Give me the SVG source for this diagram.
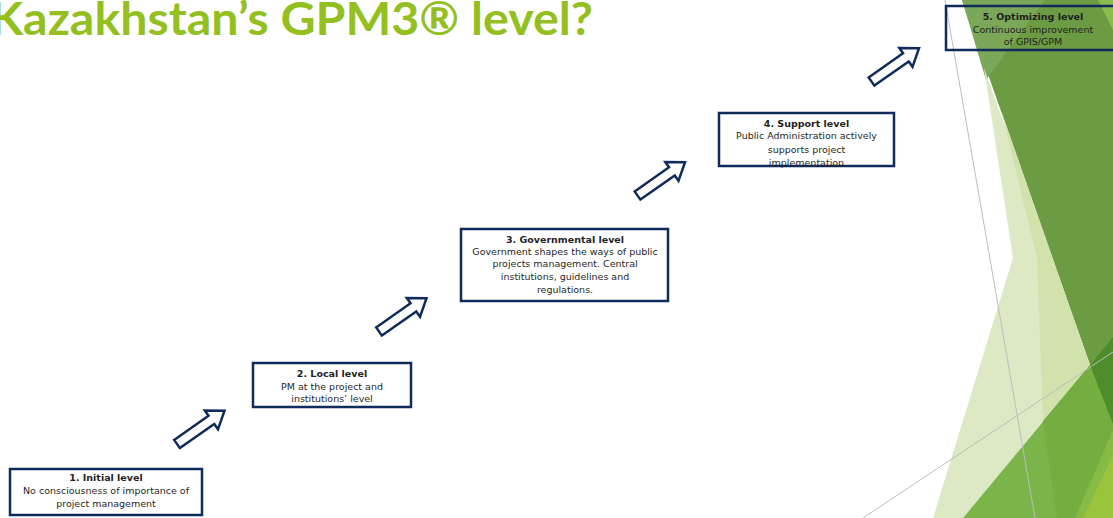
<svg xmlns="http://www.w3.org/2000/svg" width="1113" height="518" viewBox="0 0 1113 518">
<style>
.box{fill:#ffffff;stroke:#0f2b5b;stroke-width:2.5}
.box5{fill:none;stroke:#0f2b5b;stroke-width:2.5}
.t{font-family:"DejaVu Sans","Liberation Sans",sans-serif;font-size:9.5px;fill:#1f1f1f;text-anchor:middle}
.b{font-weight:bold}
.arrow{fill:#ffffff;stroke:#0f2b5b;stroke-width:2.5;stroke-linejoin:miter}
.gl{stroke:#bdbdbd;stroke-width:1;fill:none}
.title{font-family:"Lato","Open Sans","Liberation Sans",sans-serif;font-weight:bold;font-size:45px;fill:#93c01f}
</style>
<defs>
<path id="blk" d="M0,-5 H42 V-11.5 L58,0 L42,11.5 V5 H0 Z"/>
</defs>
<rect x="0" y="0" width="1113" height="518" fill="#ffffff"/>
<g id="background">
<polygon points="962,0 1113,0 1113,341 1090,365" fill="#6b9c43"/>
<polygon points="962,0 1045,0 986,80" fill="#7aa858"/>
<polygon points="1098,0 1113,0 1113,30" fill="#8cbb4e"/>
<polygon points="984,68 1090,365 963,518 933,518 1013,258" fill="#dce9c4"/>
<polygon points="1001,110 1090,365 1043,421 1037,258" fill="#d1e2ad"/>
<polygon points="963,518 1090,365 1113,341 1113,518" fill="#7bb54a"/>
<polygon points="1043,421 1090,365 1113,420 1113,455 1083,518 1057,518" fill="#74ae41"/>
<polygon points="1090,365 1113,337 1113,424" fill="#4f8c2b"/>
<polygon points="1075,518 1113,430 1113,518" fill="#86bb45"/>
<polygon points="1083,518 1113,455 1113,518" fill="#9ac43c"/>
<line class="gl" x1="945" y1="0" x2="1035" y2="518"/>
<line class="gl" x1="863" y1="518" x2="1113" y2="352"/>
</g>
<text class="title" x="-10" y="35" textLength="603" lengthAdjust="spacingAndGlyphs">Kazakhstan’s GPM3® level?</text>
<g id="connectors">
<use href="#blk" class="arrow" transform="translate(177,444) rotate(-35)"/>
<use href="#blk" class="arrow" transform="translate(379,331.5) rotate(-35)"/>
<use href="#blk" class="arrow" transform="translate(637.5,195.5) rotate(-35)"/>
<use href="#blk" class="arrow" transform="translate(871.5,81.5) rotate(-35)"/>
</g>
<g id="level1">
<rect class="box" x="10" y="469" width="192" height="46"/>
<text class="t b" x="106" y="481">1. Initial level</text>
<text class="t" x="106" y="494.3">No consciousness of importance of</text>
<text class="t" x="106" y="507.3">project management</text>
</g>
<g id="level2">
<rect class="box" x="253" y="363" width="158" height="44"/>
<text class="t b" x="332" y="376.7">2. Local level</text>
<text class="t" x="332" y="390">PM at the project and</text>
<text class="t" x="332" y="402.3">institutions’ level</text>
</g>
<g id="level3">
<rect class="box" x="461" y="229" width="207" height="72"/>
<text class="t b" x="565" y="242.7">3. Governmental level</text>
<text class="t" x="565" y="255">Government shapes the ways of public</text>
<text class="t" x="565" y="267.3">projects management. Central</text>
<text class="t" x="565" y="280">institutions, guidelines and</text>
<text class="t" x="565" y="292.7">regulations.</text>
</g>
<g id="level4">
<rect class="box" x="719" y="113" width="175" height="53"/>
<text class="t b" x="806.5" y="126.7">4. Support level</text>
<text class="t" x="806.5" y="139.3">Public Administration actively</text>
<text class="t" x="806.5" y="152.7">supports project</text>
<text class="t" x="806.5" y="166">implementation</text>
</g>
<g id="level5">
<rect class="box5" x="946" y="6" width="175" height="44"/>
<text class="t b" x="1033" y="19.5">5. Optimizing level</text>
<text class="t" x="1033" y="33">Continuous improvement</text>
<text class="t" x="1033" y="45">of GPIS/GPM</text>
</g>
</svg>
